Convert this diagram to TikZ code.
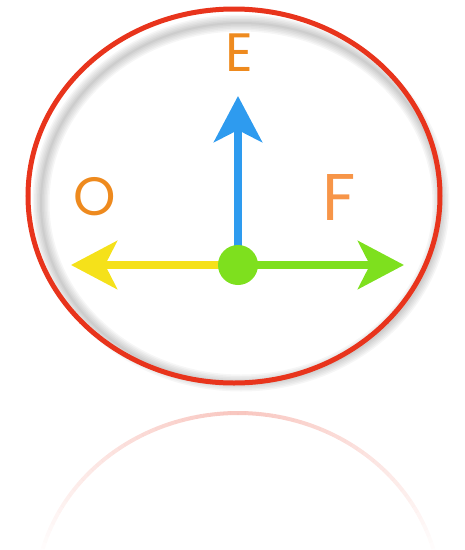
\documentclass[tikz,border=0pt]{standalone}
\usepackage{fontspec}
\setsansfont{Poppins}
\usepackage{tikz}
\usetikzlibrary{arrows.meta}

\definecolor{ringred}{HTML}{E8341C}
\definecolor{upblue}{HTML}{2E9BEF}
\definecolor{rightgreen}{HTML}{7EE01E}
\definecolor{leftyellow}{HTML}{F5E11A}
\definecolor{letterorange}{HTML}{EE8A1E}
\definecolor{lightorange}{HTML}{F79548}

\begin{document}
\begin{tikzpicture}[x=1pt, y=-1pt,
            ring/.style={draw=ringred, line width=5pt},
            axis/.style={line width=8pt, -{Stealth[length=46pt, width=48pt, inset=12pt]}},
            dot/.style={circle, fill=rightgreen, minimum size=40pt, inner sep=0pt},
            letter/.style={font=\sffamily\fontsize{54}{58}\selectfont, inner sep=0pt}
        ]
        \useasboundingbox (0,0) rectangle (465,550);

        % Spiegelung
        \foreach \t in {14,16,...,88} {
            \pgfmathsetmacro{\op}{0.5*(\t-12)/76}
            \draw[ringred!55, line width=4pt, opacity=\op]
                (238,600) ++(\t:203pt and 187pt) arc[start angle=\t, end angle=\t+2, x radius=203pt, y radius=187pt];
            \draw[ringred!55, line width=4pt, opacity=\op]
                (238,600) ++(180-\t:203pt and 187pt) arc[start angle=180-\t, end angle=178-\t, x radius=203pt, y radius=187pt];
        }

        % Schatten
        \foreach \w in {2,5,...,17} {
            \draw[black, line width=\w pt, opacity=0.035] (241,203) ellipse (200pt and 180pt);
        }

        % Kreis
        \draw[ring] (234,196) ellipse (206pt and 187pt);

        % Knoten
        \coordinate (c) at (238,265);
        \coordinate (up) at (238,96);
        \coordinate (left) at (71,265);
        \coordinate (right) at (404,265);
        \node[letter, text=letterorange] (e) at (239,53) {E};
        \node[letter, text=letterorange] (o) at (95,197) {O};
        \node[letter, text=lightorange, font=\sffamily\fontsize{66}{70}\selectfont] (f) at (339,197) {F};

        % Pfeile
        \draw[axis, upblue] (c) -- (up);
        \draw[axis, leftyellow] (c) -- (left);
        \draw[axis, rightgreen] (c) -- (right);
        \node[dot] (m) at (c) {};

    \end{tikzpicture}
\end{document}
